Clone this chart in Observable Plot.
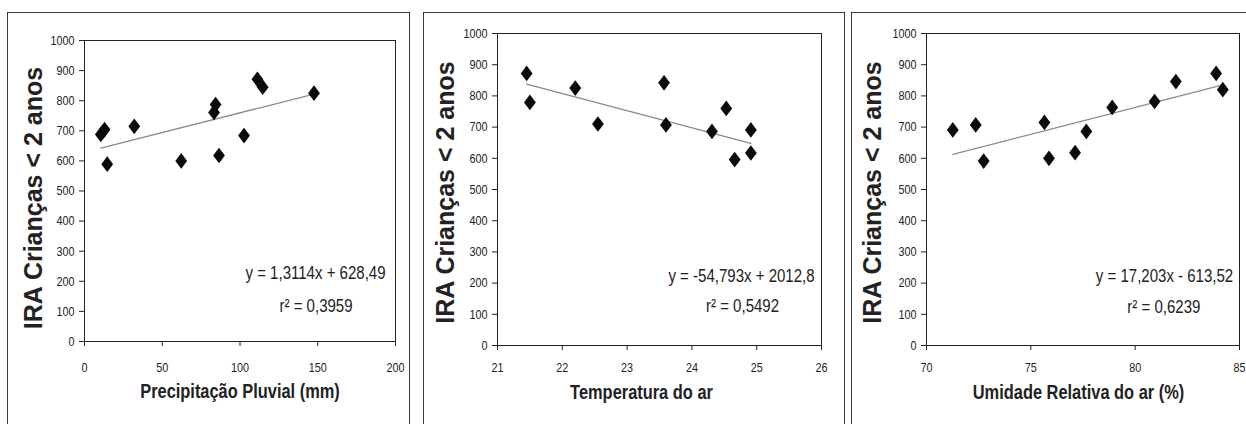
<!DOCTYPE html>
<html>
<head>
<meta charset="utf-8">
<script src="https://cdn.jsdelivr.net/npm/d3@7"></script>
<script src="https://cdn.jsdelivr.net/npm/@observablehq/plot@0.6"></script>
<style>
  html, body { margin: 0; padding: 0; background: #fff; width: 1246px; height: 424px; overflow: hidden; }
  .box { position: absolute; border: 1.5px solid #3a3a3a; box-sizing: border-box; }
  .chart { position: absolute; top: 0; }
  .chart svg { overflow: visible; }
</style>
</head>
<body>
<div id="b1" class="box" style="left:7px;top:12px;width:403px;height:440px"></div>
<div id="b2" class="box" style="left:423px;top:12px;width:422px;height:440px"></div>
<div id="b3" class="box" style="left:851px;top:12px;width:420px;height:440px"></div>
<div id="c1" class="chart" style="left:8px"></div>
<div id="c2" class="chart" style="left:424px"></div>
<div id="c3" class="chart" style="left:852px"></div>
<script>
// ---- data ----
const precipitacao = [10.5, 12.9, 14.6, 32.0, 62.2, 83.3, 84.3, 86.5, 102.6, 111.2, 114.6, 147.6];
const iraPrecipitacao = [688, 704, 589, 715, 600, 761, 787, 618, 684, 871, 845, 825];

const temperatura = [21.45, 21.5, 22.2, 22.55, 23.57, 23.6, 24.31, 24.53, 24.66, 24.91, 24.91];
const iraTemperatura = [872, 779, 825, 710, 842, 707, 686, 760, 596, 691, 617];

const umidade = [71.26, 72.36, 72.74, 75.65, 75.87, 77.12, 77.66, 78.9, 80.93, 81.95, 83.88, 84.2];
const iraUmidade = [691, 707, 591, 715, 600, 618, 686, 763, 782, 846, 872, 820];

const xTicksPrecip = [0, 50, 100, 150, 200];
const xTicksTemp = [21, 22, 23, 24, 25, 26];
const xTicksUmid = [70, 75, 80, 85];
const yTicks = [0, 100, 200, 300, 400, 500, 600, 700, 800, 900, 1000];

const slopes = [1.3114, -54.793, 17.203];
const intercepts = [628.49, 2012.8, -613.52];
const equationLabels = ["y = 1,3114x + 628,49", "y = -54,793x + 2012,8", "y = 17,203x - 613,52"];
const r2Labels = ["r\u00B2 = 0,3959", "r\u00B2 = 0,5492", "r\u00B2 = 0,6239"];
const xTitles = ["Precipitação Pluvial (mm)", "Temperatura do ar", "Umidade Relativa do ar (%)"];
const yTitle = "IRA Crianças < 2 anos";

// ---- drawing ----
const baseFont = "'Liberation Sans', Arial, sans-serif";
const NARROW = 0.8; // emulate Arial Narrow by horizontal compression
const tallDiamond = {
  draw(context, size) {
    const r = Math.sqrt(size / Math.PI);
    const h = r * 1.33;
    context.moveTo(0, -h);
    context.lineTo(r, 0);
    context.lineTo(0, h);
    context.lineTo(-r, 0);
    context.closePath();
  }
};

function panel(cfg) {
  const pts = cfg.xs.map((x, i) => ({x, y: cfg.ys[i]}));
  const [x0, x1] = d3.extent(cfg.xs);
  const reg = [x0, x1].map(x => ({x, y: cfg.a * x + cfg.b}));
  return Plot.plot({
    width: cfg.width,
    height: 424,
    marginLeft: cfg.ml,
    marginRight: cfg.mr,
    marginTop: cfg.mt,
    marginBottom: cfg.mb,
    style: {fontFamily: baseFont, fontSize: "13.5px", color: "#222", background: "transparent", overflow: "visible"},
    x: {domain: cfg.xDomain},
    y: {domain: [0, 1000]},
    marks: [
      Plot.frame({stroke: "#222", strokeWidth: 1}),
      Plot.axisX({ticks: cfg.xTicks, tickFormat: d => `${d}`, tickSize: 5, tickPadding: cfg.xPad, label: null, fontSize: 13.5, stroke: "#222"}),
      Plot.axisY({ticks: yTicks, tickFormat: d => `${d}`, tickSize: 5, tickPadding: 5, label: null, fontSize: 13.5, stroke: "#222"}),
      Plot.line(reg, {x: "x", y: "y", stroke: "#8a8a8a", strokeWidth: 1.3}),
      Plot.dot(pts, {x: "x", y: "y", symbol: tallDiamond, r: 5.9, fill: "#0a0a0a", stroke: "none"}),
      Plot.text([cfg.xTitle], {frameAnchor: "bottom", dx: cfg.xtDx, dy: cfg.xtDy, lineAnchor: "bottom",
        fontSize: 20.5, fontWeight: "bold", fill: "#222"}),
      Plot.text([yTitle], {frameAnchor: "left", rotate: -90, dx: cfg.ytDx, dy: cfg.ytDy, lineAnchor: "middle",
        textAnchor: "middle", fontSize: 25, fontWeight: "bold", fill: "#222"}),
      Plot.text([cfg.eq], {frameAnchor: "bottom-right", dx: cfg.eqDx, dy: cfg.eqDy, lineAnchor: "bottom",
        textAnchor: "middle", fontSize: 18.8, fill: "#222"}),
      Plot.text([cfg.r2], {frameAnchor: "bottom-right", dx: cfg.r2Dx, dy: cfg.r2Dy, lineAnchor: "bottom",
        textAnchor: "middle", fontSize: 18.8, fill: "#222"})
    ]
  });
}

function narrowTexts(svg) {
  svg.querySelectorAll("text").forEach(t => {
    if ((t.getAttribute("transform") || "").includes("rotate")) return;
    const w = t.getComputedTextLength();
    if (w > 0) {
      t.setAttribute("textLength", (w * NARROW).toFixed(2));
      t.setAttribute("lengthAdjust", "spacingAndGlyphs");
    }
  });
}

const configs = [
  {id: "c1", xs: precipitacao, ys: iraPrecipitacao, xDomain: [0, 200], xTicks: xTicksPrecip,
   a: slopes[0], b: intercepts[0], eq: equationLabels[0], r2: r2Labels[0], xTitle: xTitles[0],
   width: 401, ml: 76, mr: 14, mt: 40, mb: 83, xPad: 16,
   xtDx: 0, xtDy: 56, ytDx: -51, ytDy: 7, eqDx: -80, eqDy: -63, r2Dx: -79.5, r2Dy: -29.5},
  {id: "c2", xs: temperatura, ys: iraTemperatura, xDomain: [21, 26], xTicks: xTicksTemp,
   a: slopes[1], b: intercepts[1], eq: equationLabels[1], r2: r2Labels[1], xTitle: xTitles[1],
   width: 420, ml: 73, mr: 23, mt: 33, mb: 79, xPad: 12,
   xtDx: -18, xtDy: 53, ytDx: -51.5, ytDy: 3, eqDx: -80, eqDy: -64, r2Dx: -79, r2Dy: -33.3},
  {id: "c3", xs: umidade, ys: iraUmidade, xDomain: [70, 85], xTicks: xTicksUmid,
   a: slopes[2], b: intercepts[2], eq: equationLabels[2], r2: r2Labels[2], xTitle: xTitles[2],
   width: 394, ml: 74, mr: 7, mt: 33, mb: 79, xPad: 12,
   xtDx: -4.5, xtDy: 53, ytDx: -54, ytDy: 3, eqDx: -75, eqDy: -63.3, r2Dx: -75.7, r2Dy: -33}
];

for (const cfg of configs) {
  const svg = panel(cfg);
  document.getElementById(cfg.id).append(svg);
  narrowTexts(svg);
}
</script>
</body>
</html>
